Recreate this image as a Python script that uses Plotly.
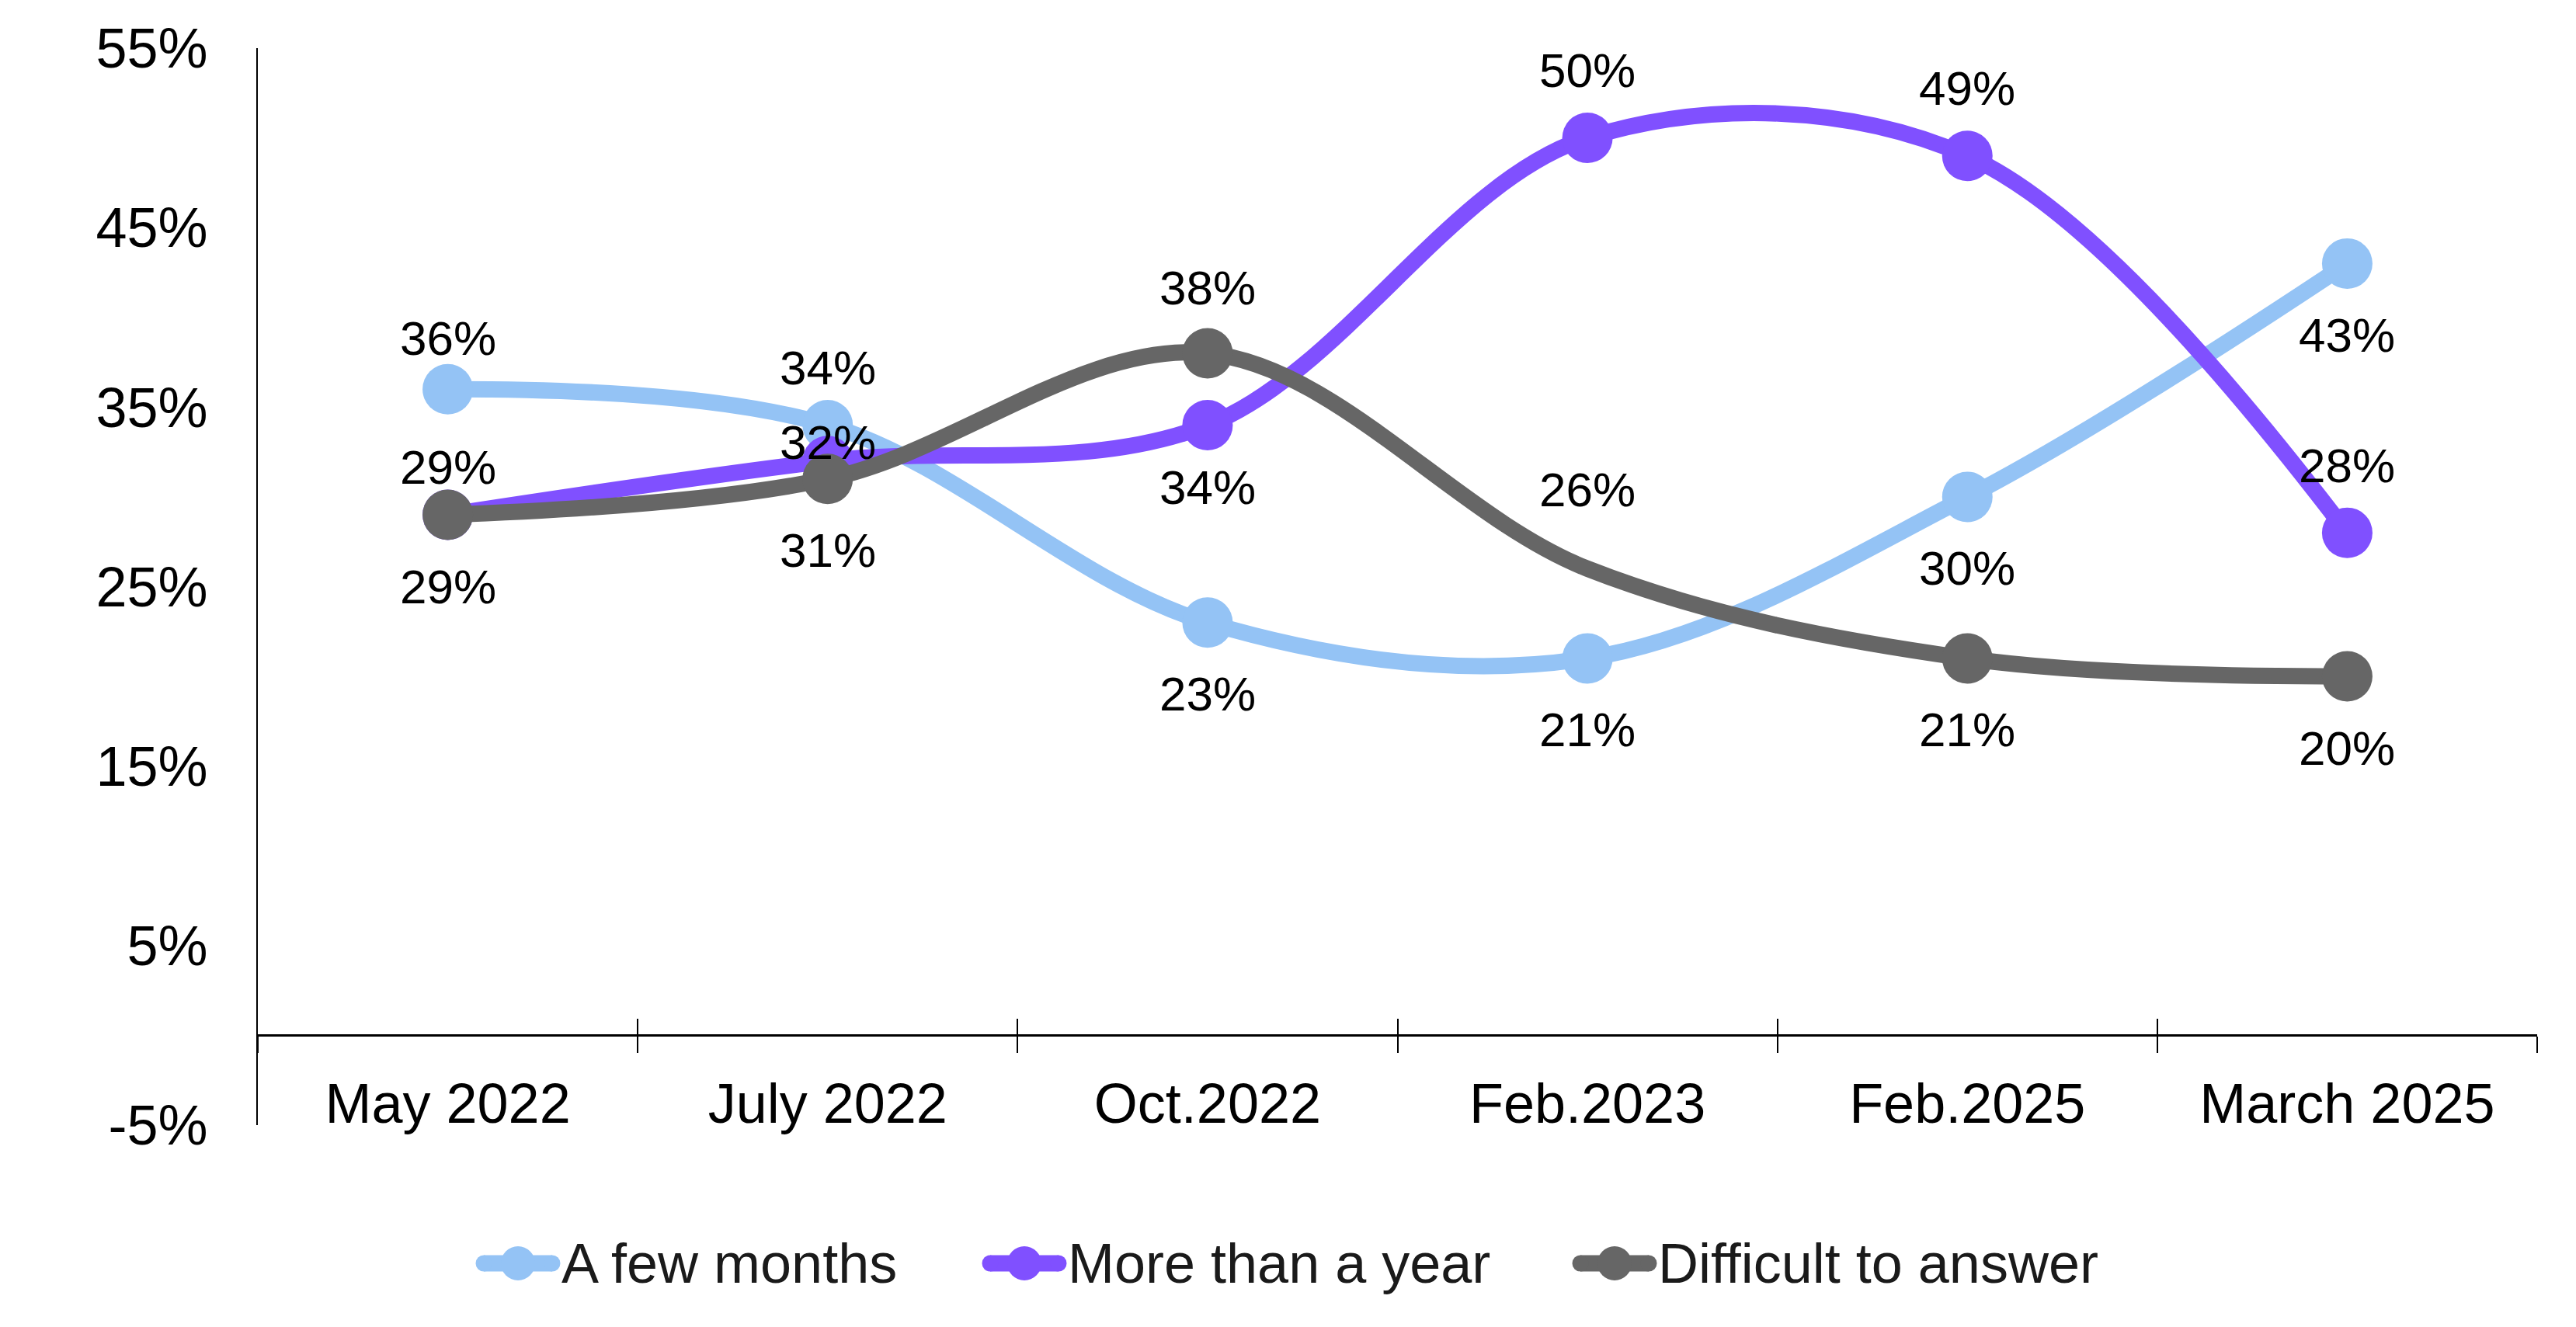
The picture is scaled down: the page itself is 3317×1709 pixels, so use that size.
import plotly.graph_objects as go

categories = ["May 2022", "July 2022", "Oct.2022", "Feb.2023", "Feb.2025", "March 2025"]
few_months = [36, 34, 23, 21, 30, 43]
more_than_year = [29, 32, 34, 50, 49, 28]
difficult = [29, 31, 38, 26, 21, 20]
y_ticks = [-5, 5, 15, 25, 35, 45, 55]

series = [
    ("A few months", few_months, "#94C3F5"),
    ("More than a year", more_than_year, "#8050FF"),
    ("Difficult to answer", difficult, "#666666"),
]

# label vertical offsets (px, positive = above the point)
label_shift = {
    "A few months": [66, 74, -92, -92, -92, -92],
    "More than a year": [62, 24, -80, 87, 87, 87],
    "Difficult to answer": [-92, -92, 84, 102, -92, -92],
}
# the grey series shows no marker at Feb.2023
marker_sizes = {
    "A few months": [65] * 6,
    "More than a year": [65] * 6,
    "Difficult to answer": [65, 65, 65, 0, 65, 65],
}

FONT = "Liberation Sans, Arial, sans-serif"
W, H = 3317, 1709
ML, MR, MT, MB = 332, 50, 62, 260
PW, PH = W - ML - MR, H - MT - MB


def px_x(px):
    return (px - ML) / PW


def px_y(py):
    return (H - MB - py) / PH


fig = go.Figure()
for name, vals, color in series:
    fig.add_trace(go.Scatter(
        x=categories, y=vals, name=name, mode="lines+markers",
        line=dict(color=color, width=21, shape="spline", smoothing=1.0),
        marker=dict(color=color, size=marker_sizes[name], opacity=1, line=dict(width=0)),
        hoverinfo="skip", showlegend=False,
    ))

# invisible helper trace so the overlay axis (inner tick marks) is drawn
fig.add_trace(go.Scatter(x=categories, y=[None] * len(categories), xaxis="x2",
                         showlegend=False, hoverinfo="skip"))

annotations = []
for name, vals, color in series:
    for c, v, s in zip(categories, vals, label_shift[name]):
        annotations.append(dict(
            x=c, y=v, xref="x", yref="y", text=f"{v}%", showarrow=False,
            yshift=s, font=dict(family=FONT, size=62, color="#000000"),
            xanchor="center", yanchor="middle",
        ))

# custom legend (long thick line with a dot, text to the right)
legend_starts = [613, 1265, 2025]
legend_len = 108
legend_y = 1627
shapes = []
for (name, vals, color), x0 in zip(series, legend_starts):
    shapes.append(dict(type="line", xref="paper", yref="paper",
                       x0=px_x(x0 + 10), x1=px_x(x0 + legend_len - 10),
                       y0=px_y(legend_y), y1=px_y(legend_y),
                       line=dict(color=color, width=21)))
    for end in (x0 + 10, x0 + legend_len - 10):
        shapes.append(dict(type="circle", xref="paper", yref="paper",
                           x0=px_x(end - 10.5), x1=px_x(end + 10.5),
                           y0=px_y(legend_y + 10.5), y1=px_y(legend_y - 10.5),
                           fillcolor=color, line=dict(width=0)))
    cx = x0 + legend_len / 2
    shapes.append(dict(type="circle", xref="paper", yref="paper",
                       x0=px_x(cx - 22), x1=px_x(cx + 22),
                       y0=px_y(legend_y + 22), y1=px_y(legend_y - 22),
                       fillcolor=color, line=dict(width=0)))
    annotations.append(dict(x=px_x(x0 + legend_len), y=px_y(legend_y), xref="paper", yref="paper",
                            text=name, showarrow=False, xanchor="left", yanchor="middle",
                            font=dict(family=FONT, size=72, color="#1a1a1a")))

zero_pos = (0 - y_ticks[0]) / (y_ticks[-1] - y_ticks[0])

fig.update_layout(
    width=W, height=H,
    margin=dict(l=ML, r=MR, t=MT, b=MB),
    paper_bgcolor="white", plot_bgcolor="white",
    font=dict(family=FONT, size=72, color="#000000"),
    showlegend=False,
    annotations=annotations,
    shapes=shapes,
    xaxis=dict(
        type="category", range=[-0.5, len(categories) - 0.5],
        anchor="free", position=zero_pos,
        showline=True, linecolor="#000000", linewidth=3,
        ticks="outside", ticklen=21, tickwidth=2, tickcolor="#000000",
        tickson="boundaries", showgrid=False, zeroline=False,
        tickfont=dict(family=FONT, size=72, color="#000000"),
        ticklabelstandoff=24,
    ),
    xaxis2=dict(
        type="category", overlaying="x", matches="x",
        anchor="free", position=zero_pos,
        showline=False, ticks="inside", ticklen=21, tickwidth=2, tickcolor="#000000",
        tickson="boundaries", showticklabels=False, showgrid=False, zeroline=False,
    ),
    yaxis=dict(
        range=[y_ticks[0], y_ticks[-1]], tickvals=y_ticks,
        ticktext=[f"{t}%" for t in y_ticks],
        showline=True, linecolor="#000000", linewidth=2,
        showgrid=False, zeroline=False, ticks="",
        tickfont=dict(family=FONT, size=72, color="#000000"),
        ticklabelstandoff=48,
    ),
)

fig.write_html("out.html")
